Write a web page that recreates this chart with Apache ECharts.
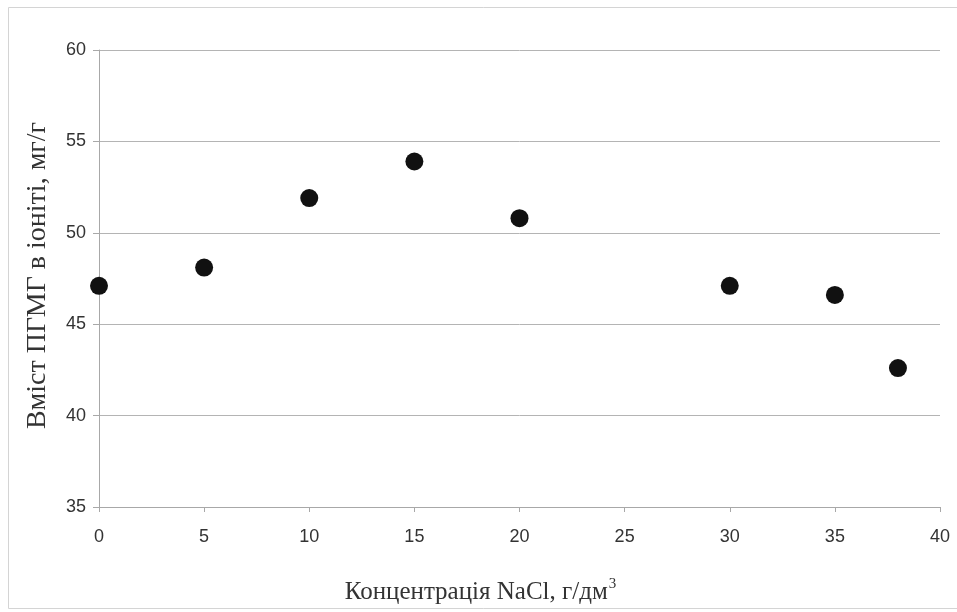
<!DOCTYPE html>
<html>
<head>
<meta charset="utf-8">
<script src="https://cdn.jsdelivr.net/npm/echarts@6/dist/echarts.min.js"></script>
<style>
  html, body { margin: 0; padding: 0; background: #fff; }
  #chart { width: 957px; height: 612px; }
</style>
</head>
<body>
<div id="chart"></div>
<script>
// концентрація NaCl, г/дм3
const concentration = [0, 5, 10, 15, 20, 30, 35, 38];
// вміст ПГМГ в іоніті, мг/г
const content = [47.1, 48.1, 51.9, 53.9, 50.8, 47.1, 46.6, 42.6];

const xTicks = { min: 0, max: 40, interval: 5 };
const yTicks = { min: 35, max: 60, interval: 5 };

const chart = echarts.init(document.getElementById('chart'));

chart.setOption({
  animation: false,
  backgroundColor: '#fff',
  graphic: [{
    type: 'rect',
    shape: { x: 8.5, y: 7.5, width: 960, height: 601 },
    style: { fill: 'none', stroke: '#d4d4d4', lineWidth: 1 },
    silent: true
  }],
  grid: { left: 99, right: 17, top: 50, bottom: 105, containLabel: false },
  xAxis: {
    type: 'value',
    min: xTicks.min, max: xTicks.max, interval: xTicks.interval,
    name: '{t|Концентрація NaCl, г/дм}{sup|3}',
    nameLocation: 'middle',
    nameGap: 70,
    nameTextStyle: {
      padding: [0, 78, 0, 0],
      rich: {
        t: { fontFamily: 'Liberation Serif', fontSize: 25, color: '#333' },
        sup: { fontFamily: 'Liberation Serif', fontSize: 15, color: '#333', verticalAlign: 'top', padding: [0, 0, 16, 1] }
      }
    },
    axisLine: { show: true, lineStyle: { color: '#a8a8a8', width: 1 } },
    axisTick: { show: true, length: 5, lineStyle: { color: '#a8a8a8' } },
    axisLabel: { fontFamily: 'Liberation Sans', fontSize: 18, color: '#333', margin: 21 },
    splitLine: { show: false }
  },
  yAxis: {
    type: 'value',
    min: yTicks.min, max: yTicks.max, interval: yTicks.interval,
    name: 'Вміст ПГМГ в іоніті, мг/г',
    nameLocation: 'middle',
    nameGap: 47,
    nameTextStyle: { fontFamily: 'Liberation Serif', fontSize: 28, color: '#333', padding: [0, 0, 0, 6] },
    axisLine: { show: true, lineStyle: { color: '#a8a8a8', width: 1 } },
    axisTick: { show: true, length: 6, lineStyle: { color: '#a8a8a8' } },
    axisLabel: { fontFamily: 'Liberation Sans', fontSize: 18, color: '#333', margin: 13 },
    splitLine: { show: true, lineStyle: { color: '#b4b4b4', width: 1 } }
  },
  series: [{
    type: 'scatter',
    data: concentration.map((c, i) => [c, content[i]]),
    symbol: 'circle',
    symbolSize: 18,
    itemStyle: { color: '#111', opacity: 1 }
  }]
});
</script>
</body>
</html>
